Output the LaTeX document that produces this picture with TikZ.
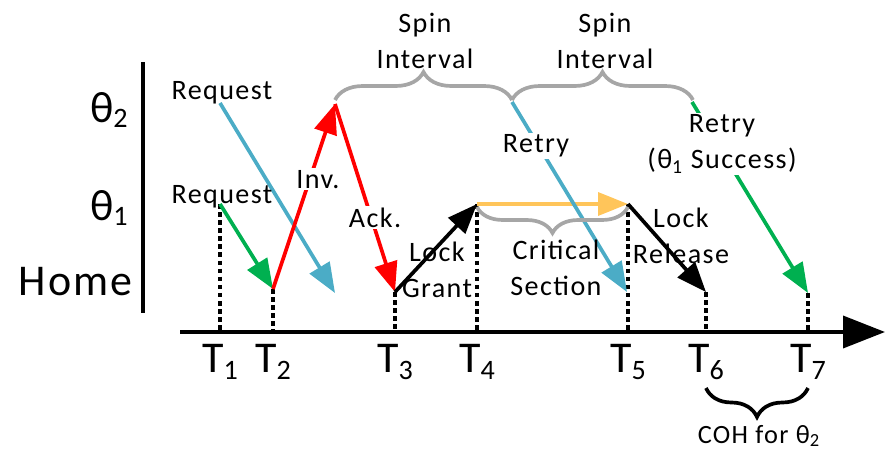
\documentclass[tikz,border=0pt]{standalone}
\usepackage{fontspec}
\setmainfont{Carlito}[LetterSpace=5]
\usetikzlibrary{arrows.meta, decorations.pathreplacing}
\definecolor{mRed}{HTML}{FF0000}
\definecolor{mBlue}{HTML}{4BACC6}
\definecolor{mGreen}{HTML}{00B050}
\definecolor{mYellow}{HTML}{FFC55A}
\definecolor{mGray}{HTML}{A6A6A6}
\newcommand{\lowsub}[2][4pt]{\raisebox{-#1}{\fontsize{16}{16}\selectfont #2}}
\tikzset{
  msg/.style={line width=2.1pt, -{Triangle[length=17pt, width=13pt]}},
  drop/.style={line width=2.1pt, dash pattern=on 2.6pt off 2pt},
  lbl/.style={font=\fontsize{16}{20.4}\selectfont, align=center, inner sep=1pt},
  big/.style={font=\fontsize{25}{30}\selectfont, inner sep=0pt},
  gbrace/.style={draw=mGray, line width=2.1pt, decorate, decoration={brace, amplitude=#1}},
}

\begin{document}
\begin{tikzpicture}[x=0.02cm, y=-0.02cm]
    \useasboundingbox (0,0) rectangle (887,453);
    % levels
    \node[big, anchor=base east] (lv2) at (128,122) {θ\lowsub[3.4pt]{2}};
    \node[big, anchor=base east] (lv1) at (128,220) {θ\lowsub[3.4pt]{1}};
    \node[big, anchor=base east] (home) at (133,295) {Home};
    \draw[line width=2.1pt] (143,62) coordinate (bar0) -- (143,313) coordinate (bar1);
    % time axis
    \coordinate (ax0) at (180,332);
    \coordinate (ax1) at (885,332);
    \coordinate (tb) at (0,372);
    \draw[line width=2.1pt, -{Triangle[length=0.84cm, width=0.64cm]}] (ax0) -- (ax1);
    % event points
    \coordinate (rq2) at (220,103);
    \coordinate (rq1) at (220,204);
    \coordinate (h2) at (273,289);
    \coordinate (miss) at (335,293);
    \coordinate (inv) at (335,104);
    \coordinate (h3) at (395,292);
    \coordinate (g4) at (477,204);
    \coordinate (r5) at (628,204);
    \coordinate (try) at (512,102);
    \coordinate (h5) at (627,292);
    \coordinate (h6) at (706,292);
    \coordinate (ok) at (692,102);
    \coordinate (h7) at (808,293);
    \foreach \p [count=\i] in {rq1,h2,h3,g4,r5,h6,h7} {
      \draw[drop] (\p) -- (\p |- ax0);
      \node[big, anchor=base] (t\i) at (\p |- tb) {T\lowsub[4.5pt]{\i}};
    }
    % messages
    \draw[msg, mBlue] (rq2) -- (miss);
    \draw[msg, mGreen] (rq1) -- (h2);
    \draw[msg, mRed] (h2) -- (inv);
    \draw[msg, mRed] (inv) -- (h3);
    \draw[msg] (h3) -- (g4);
    \draw[msg, mYellow] (g4) -- (r5);
    \draw[msg] (r5) -- (h6);
    \draw[msg, mBlue] (try) -- (h5);
    \draw[msg, mGreen] (ok) -- (h7);
    % braces
    \draw[gbrace=0.56cm] (335,100) -- (512,100);
    \draw[gbrace=0.56cm] (512,100) -- (693,100);
    \draw[gbrace=0.52cm] (628,207) -- (477,207);
    \draw[gbrace=0.58cm, draw=black] (808,388) -- (706,388);
    % labels
    \node[lbl] (spin1) at (425,41) {Spin\\Interval};
    \node[lbl] (spin2) at (605,41) {Spin\\Interval};
    \node[lbl, anchor=base] (req2) at (222,99) {Request};
    \node[lbl, anchor=base] (req1) at (222,203) {Request};
    \node[lbl, anchor=base, fill=white] (invl) at (318,188) {Inv.};
    \node[lbl, anchor=base, fill=white] (ackl) at (375,227) {Ack.};
    \node[lbl] (grant) at (437,270) {Lock\\Grant};
    \node[lbl] (crit) at (556,268) {Critical\\Section};
    \node[lbl] (rel) at (681,236) {Lock\\Release};
    \node[lbl, anchor=base, fill=white] (retry) at (536,153) {Retry};
    \node[lbl, fill=white] (succ) at (722,144) {Retry\\(θ\textsubscript{1} Success)};
    \node[lbl, anchor=base, font=\fontsize{15}{18}\selectfont] (coh) at (759,443) {COH for θ\textsubscript{2}};
  \end{tikzpicture}
\end{document}
